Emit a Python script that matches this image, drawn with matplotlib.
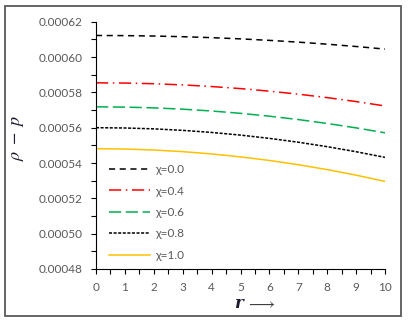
import numpy as np
import matplotlib
matplotlib.use("Agg")
import matplotlib.pyplot as plt
from matplotlib.patches import Rectangle
from matplotlib.ticker import MultipleLocator, FormatStrFormatter

plt.rcParams["mathtext.fontset"] = "stix"

r = [0, 1, 2, 3, 4, 5, 6, 7, 8, 9, 10]

# values, in units of 1e-6
chi_00 = [612.20, 612.12, 611.89, 611.51, 610.97, 610.28, 609.43, 608.43, 607.27, 605.96, 604.50]
chi_04 = [585.40, 585.27, 584.88, 584.22, 583.30, 582.13, 580.68, 578.98, 577.02, 574.79, 572.30]
chi_06 = [571.80, 571.65, 571.21, 570.48, 569.45, 568.13, 566.51, 564.60, 562.39, 559.89, 557.10]
chi_08 = [560.00, 559.83, 559.33, 558.49, 557.31, 555.80, 553.95, 551.77, 549.25, 546.39, 543.20]
chi_10 = [548.10, 547.92, 547.36, 546.44, 545.14, 543.48, 541.44, 539.04, 536.26, 533.12, 529.60]

labels = ["χ=0.0", "χ=0.4", "χ=0.6", "χ=0.8", "χ=1.0"]

fig = plt.figure(figsize=(4.08, 3.22), dpi=100)
ax = fig.add_axes([96 / 408, 1 - 269 / 322, 289 / 408, 247.3 / 322])

series = [chi_00, chi_04, chi_06, chi_08, chi_10]
colors = ["black", "#FF0000", "#00B050", "black", "#FFC000"]
dashes = [(4, 3), (8, 3, 1, 3), (8, 3), (2, 1), None]

for vals, lab, c, d in zip(series, labels, colors, dashes):
    y = np.array(vals) * 1e-6
    if d is None:
        ax.plot(r, y, color=c, lw=1.1, label=lab)
    else:
        ax.plot(r, y, color=c, lw=1.1, dashes=d, label=lab)

ax.set_xlim(0, 10)
ax.set_ylim(0.00048, 0.00062)
ax.xaxis.set_major_locator(MultipleLocator(1))
ax.xaxis.set_minor_locator(MultipleLocator(0.5))
ax.yaxis.set_major_locator(MultipleLocator(0.00002))
ax.yaxis.set_minor_locator(MultipleLocator(0.00001))
ax.yaxis.set_major_formatter(FormatStrFormatter("%.5f"))

for s in ["top", "right"]:
    ax.spines[s].set_visible(False)
for s in ["left", "bottom"]:
    ax.spines[s].set_color("black")
    ax.spines[s].set_linewidth(0.8)

ax.tick_params(which="both", direction="out", color="black", width=0.8)
ax.tick_params(which="major", length=3.5, labelsize=8.5, labelcolor="#595959",
               pad=6, labelfontfamily="Lato")
ax.tick_params(which="minor", length=3.5)

# axis titles
fig.text(17 / 408, 1 - 138 / 322, r"$\rho\ -\ p$", fontsize=13, color="#1a1a2e",
         rotation=90, ha="center", va="center")
fig.text(234 / 408, 1 - 304 / 322, "r", family="DejaVu Serif", style="italic",
         weight="bold", fontsize=12, color="#1a1a2e", va="center", ha="left")
fig.text(246 / 408, 1 - 303 / 322, r"$\longrightarrow$", fontsize=12,
         color="#404040", va="center", ha="left")

leg = ax.legend(loc="lower left", bbox_to_anchor=(0.018, 0.0), frameon=False,
                handlelength=3.4, handletextpad=0.45, labelspacing=0.88,
                borderpad=0.2, prop={"family": "Lato", "size": 8.5})
for t in leg.get_texts():
    t.set_color("#595959")

fig.patches.append(Rectangle((5 / 408, 6 / 322), 396 / 408, 310 / 322,
                             transform=fig.transFigure, fill=False,
                             edgecolor="#595959", lw=1.3))

fig.savefig("out.png", dpi=100)
